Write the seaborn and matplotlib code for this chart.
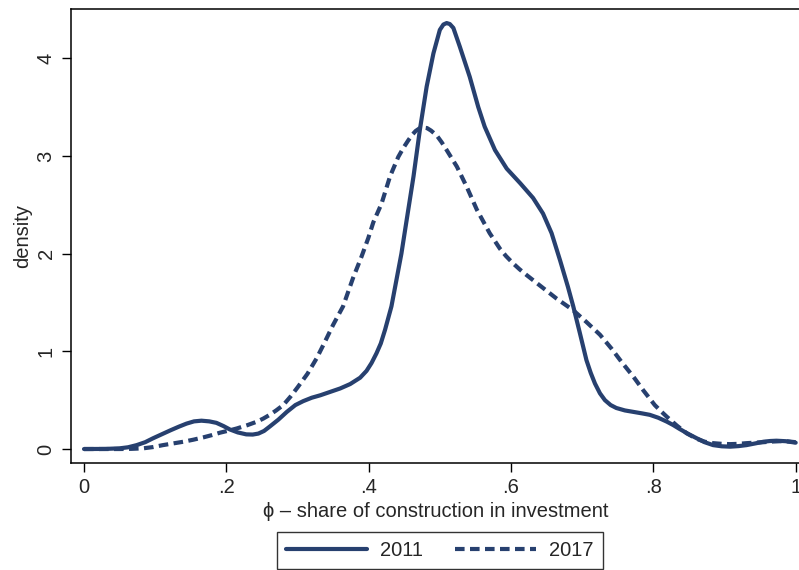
import matplotlib
matplotlib.use("Agg")
import matplotlib.pyplot as plt
from matplotlib.lines import Line2D
import seaborn as sns
import pandas as pd

# ---- data ----
x2011 = [0.00, 0.03, 0.05, 0.062, 0.074, 0.086, 0.097, 0.109, 0.121, 0.133, 0.144, 0.1546,
         0.165, 0.176, 0.186, 0.196, 0.205, 0.216, 0.228, 0.237, 0.245, 0.253,
         0.261, 0.273, 0.285, 0.297, 0.308, 0.32, 0.332, 0.346, 0.36, 0.374, 0.388,
         0.397, 0.404, 0.411, 0.417, 0.423, 0.432, 0.439,
         0.446, 0.452, 0.463, 0.472, 0.4815, 0.491, 0.500, 0.505, 0.5096, 0.514, 0.519,
         0.528, 0.542, 0.554, 0.563, 0.5775, 0.594, 0.613, 0.631, 0.645, 0.657, 0.669,
         0.680, 0.6875, 0.697, 0.706, 0.712, 0.718, 0.725, 0.732, 0.740, 0.748, 0.760,
         0.772, 0.784, 0.795, 0.807, 0.819, 0.828, 0.837, 0.849,
         0.861, 0.872, 0.884, 0.896, 0.908, 0.92, 0.931, 0.943, 0.955, 0.964, 0.973, 0.986, 1.0]
y2011 = [0.0, 0.001, 0.007, 0.018, 0.04, 0.07, 0.11, 0.15, 0.19, 0.228, 0.26, 0.283,
         0.29, 0.283, 0.268, 0.235, 0.20, 0.17, 0.15, 0.148, 0.158, 0.185,
         0.23, 0.30, 0.38, 0.45, 0.49, 0.525, 0.55, 0.585, 0.62, 0.665, 0.73,
         0.80, 0.88, 0.98, 1.08, 1.22, 1.46, 1.73,
         2.0, 2.28, 2.79, 3.27, 3.71, 4.05, 4.29, 4.345, 4.36, 4.35, 4.31,
         4.12, 3.81, 3.50, 3.30, 3.06, 2.87, 2.72, 2.57, 2.41, 2.21, 1.93,
         1.66, 1.46, 1.18, 0.91, 0.78, 0.67, 0.57, 0.50, 0.45, 0.42, 0.395,
         0.38, 0.365, 0.35, 0.32, 0.28, 0.245, 0.205, 0.155,
         0.11, 0.07, 0.04, 0.028, 0.024, 0.03, 0.04, 0.057, 0.075, 0.082, 0.085, 0.08, 0.065]

x2017 = [0.0, 0.05, 0.067, 0.083, 0.097, 0.111, 0.125, 0.14, 0.154, 0.168, 0.18, 0.191,
         0.203, 0.2145, 0.229, 0.243, 0.252, 0.261, 0.27, 0.28,
         0.29, 0.30, 0.314, 0.327, 0.338, 0.35, 0.364, 0.378, 0.390, 0.3995, 0.4065, 0.418,
         0.43, 0.4416, 0.449, 0.4557, 0.461, 0.466, 0.471, 0.477, 0.482, 0.4875, 0.4956,
         0.5026, 0.5096, 0.524, 0.538, 0.552, 0.561, 0.570, 0.5845,
         0.593, 0.603, 0.612, 0.622, 0.643, 0.664, 0.6875, 0.706, 0.725, 0.741, 0.7555,
         0.772, 0.786, 0.802, 0.811, 0.819, 0.833, 0.847, 0.861, 0.872, 0.884, 0.896,
         0.908, 0.92, 0.931, 0.943, 0.955, 0.966, 0.978, 0.989, 1.0]
y2017 = [0.0, 0.0, 0.002, 0.007, 0.02, 0.04, 0.057, 0.075, 0.096, 0.12, 0.143, 0.167,
         0.188, 0.21, 0.243, 0.28, 0.312, 0.35, 0.395, 0.45,
         0.535, 0.63, 0.77, 0.93, 1.09, 1.27, 1.46, 1.75, 1.97, 2.16, 2.32, 2.51,
         2.79, 2.99, 3.085, 3.16, 3.215, 3.255, 3.28, 3.29, 3.285, 3.26, 3.21,
         3.14, 3.06, 2.89, 2.68, 2.45, 2.33, 2.21, 2.05,
         1.975, 1.90, 1.84, 1.78, 1.66, 1.54, 1.42, 1.30, 1.17, 1.03, 0.89,
         0.74, 0.60, 0.45, 0.385, 0.33, 0.24, 0.16, 0.105, 0.075, 0.06, 0.053,
         0.05, 0.053, 0.06, 0.065, 0.07, 0.076, 0.08, 0.078, 0.07]

years = ["2011", "2017"]
xticks = [0, 0.2, 0.4, 0.6, 0.8, 1.0]
xticklabels = ["0", ".2", ".4", ".6", ".8", "1"]
yticks = [0, 1, 2, 3, 4]
yticklabels = ["0", "1", "2", "3", "4"]
xlabel = "\u03d5 \u2013 share of construction in investment"
ylabel = "density"

df = pd.concat([
    pd.DataFrame({"x": x2011, "density": y2011, "year": years[0]}),
    pd.DataFrame({"x": x2017, "density": y2017, "year": years[1]}),
])

sns.set_theme(style="ticks")
plt.rcParams["font.family"] = ["Liberation Sans", "DejaVu Sans"]

NAVY = "#27406f"
FS = 14.5
LW = 3.0
DASH = (2.3, 1.3)

fig = plt.figure(figsize=(7.99, 5.70), dpi=100)
ax = fig.add_axes([70.7 / 799, 1 - 462.7 / 570, (801 - 70.7) / 799, (462.7 - 8.7) / 570])

sns.lineplot(data=df, x="x", y="density", hue="year", style="year",
             palette={"2011": NAVY, "2017": NAVY},
             dashes={"2011": "", "2017": DASH},
             linewidth=LW, ax=ax, legend=False, sort=False)
for ln in ax.lines:
    ln.set_solid_capstyle("round")
    ln.set_solid_joinstyle("round")

ax.set_xlim(-0.0187, 1.0075)
ax.set_ylim(-0.140, 4.507)

ax.set_xticks(xticks)
ax.set_xticklabels(xticklabels, fontsize=FS)
ax.set_yticks(yticks)
ax.set_yticklabels(yticklabels, fontsize=FS, rotation=90, va="center")
ax.tick_params(axis="both", direction="out", length=6.3, width=1.0, color="black")
ax.tick_params(axis="x", pad=5)
ax.tick_params(axis="y", pad=4.5)

ax.set_xlabel(xlabel, fontsize=FS, labelpad=3)
ax.set_ylabel(ylabel, fontsize=FS, labelpad=3)

for s in ["left", "bottom", "top", "right"]:
    ax.spines[s].set_visible(True)
    ax.spines[s].set_color("black")
    ax.spines[s].set_linewidth(1.1)
    ax.spines[s].set_zorder(5)

handles = [Line2D([], [], color=NAVY, lw=LW),
           Line2D([], [], color=NAVY, lw=LW, dashes=DASH)]
leg = fig.legend(handles, years, loc="upper center",
                 bbox_to_anchor=(440 / 799, 1 - 531.7 / 570),
                 ncol=2, fontsize=FS, frameon=True, fancybox=False,
                 edgecolor="black", handlelength=4.0, handletextpad=0.65,
                 columnspacing=1.6, borderpad=0.45, borderaxespad=0)
leg.get_frame().set_linewidth(1.0)

fig.savefig("out.png", dpi=100)
